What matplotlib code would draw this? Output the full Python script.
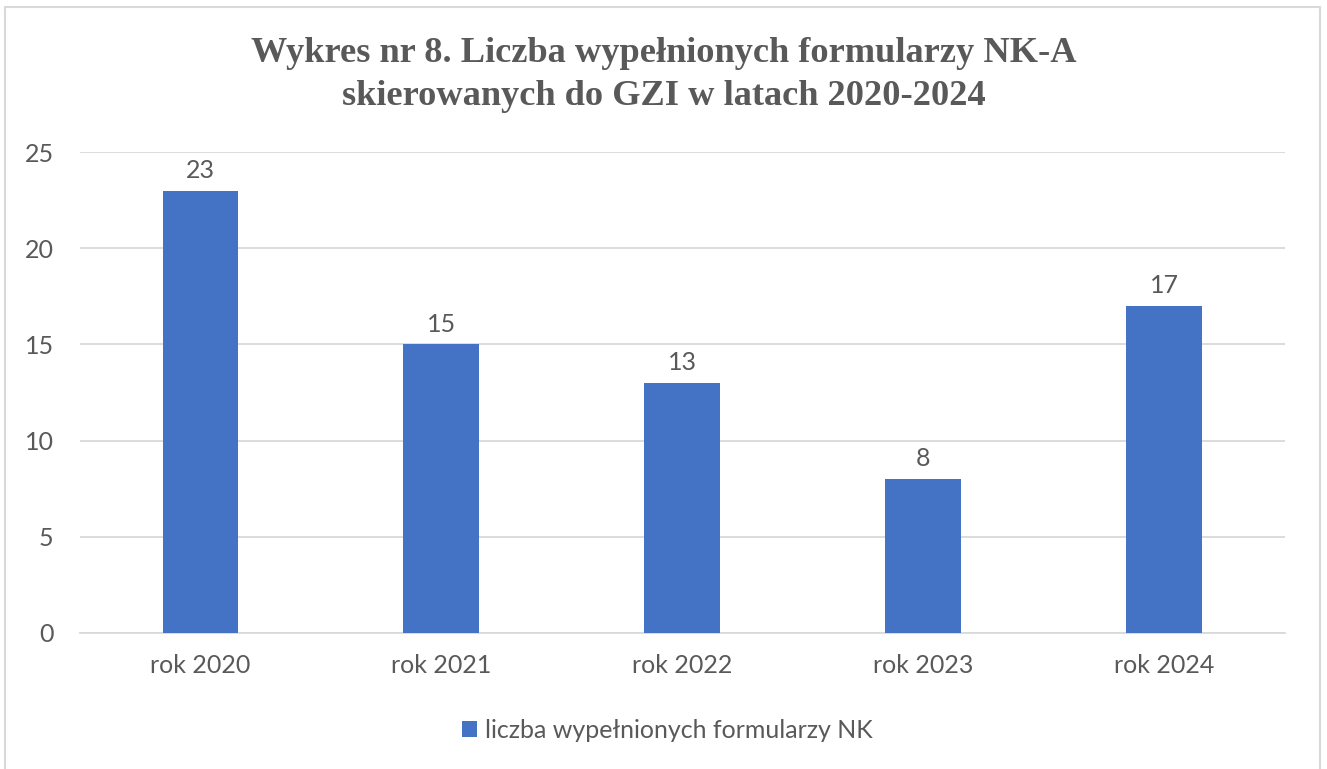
import matplotlib.pyplot as plt
from matplotlib.patches import Rectangle

categories = ['rok 2020', 'rok 2021', 'rok 2022', 'rok 2023', 'rok 2024']
values = [23, 15, 13, 8, 17]
series_name = 'liczba wypełnionych formularzy NK'
title = 'Wykres nr 8. Liczba wypełnionych formularzy NK-A\nskierowanych do GZI w latach 2020-2024'

bar_color = '#4472C4'
text_color = '#595959'
grid_color = '#D9D9D9'

plt.rcParams['font.family'] = ['Lato', 'DejaVu Sans']

fig = plt.figure(figsize=(13.27, 7.69), dpi=100)
fig.patches.append(Rectangle((5 / 1327, -0.01), 1315 / 1327, 1 - 7 / 769 + 0.01,
                             transform=fig.transFigure, fill=False,
                             edgecolor=grid_color, linewidth=1.5))

ax = fig.add_axes([0.0603, 0.1769, 0.9077, 0.6254])
x = range(len(categories))
bars = ax.bar(x, values, width=0.315, color=bar_color, label=series_name, zorder=3)
for xi, v in zip(x, values):
    ax.text(xi, v + 0.45, str(v), ha='center', va='bottom', fontsize=18, color=text_color)

ax.set_xlim(-0.5, len(categories) - 0.5)
ax.set_ylim(0, 25)
ax.set_yticks(range(0, 26, 5))
ax.set_xticks(list(x))
ax.set_xticklabels(categories)
ax.tick_params(axis='both', length=0, labelsize=18, labelcolor=text_color)
ax.tick_params(axis='x', pad=15)
ax.tick_params(axis='y', pad=19)
ax.grid(axis='y', color=grid_color, linewidth=1.3, zorder=0)
for s in ['top', 'right', 'left']:
    ax.spines[s].set_visible(False)
ax.spines['bottom'].set_color(grid_color)
ax.spines['bottom'].set_linewidth(1.3)

fig.text(0.5, 0.903, title, ha='center', va='center', fontsize=26.2, fontweight='bold',
         family='Liberation Serif', color=text_color, linespacing=1.4)

leg = fig.legend(loc='center', bbox_to_anchor=(0.503, 0.05), frameon=False, fontsize=18,
                 handlelength=0.6, handleheight=0.6, handletextpad=0.3)
for t in leg.get_texts():
    t.set_color(text_color)

fig.savefig('out.png', dpi=100)
